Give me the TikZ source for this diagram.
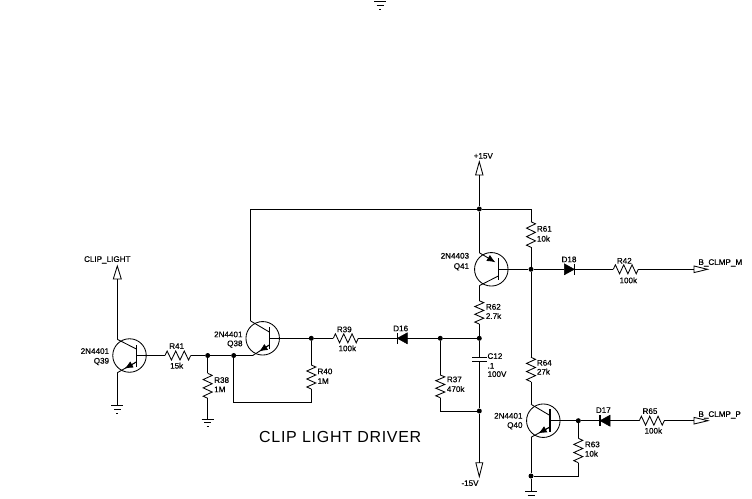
\documentclass[tikz,border=0pt]{standalone}
\usepackage{fontspec}
\setmainfont{Liberation Sans}
\newfontfamily\labfont[FakeBold=0.4]{Liberation Sans}
\usetikzlibrary{calc,arrows.meta}
\tikzset{
  wire/.style={line width=0.85pt,black,line join=miter},
  lab/.style={inner sep=0pt,text height=5.8pt,text depth=0pt,font=\labfont\fontsize{8.1}{9}\selectfont},
  labl/.style={lab,anchor=west},
  labr/.style={lab,anchor=east},
  dot/.style={circle,fill=black,inner sep=0pt,minimum size=5pt},
  qcirc/.style={circle,draw,line width=0.85pt,inner sep=0pt,minimum size=33.5pt},
  pin/.style={line width=0.85pt,draw=black,fill=white},
  dfill/.style={fill=black,draw=black,line width=0.5pt,line join=miter},
  emit/.style={wire,-{Latex[length=8.5pt,width=7pt]}}
}
% zigzag resistor body between two coordinates, #3 = side offset
\newcommand{\zigres}[3]{\draw[wire] (#1)
  -- ($(#1)!1/12!(#2)+#3$) -- ($(#1)!3/12!(#2)-#3$)
  -- ($(#1)!5/12!(#2)+#3$) -- ($(#1)!7/12!(#2)-#3$)
  -- ($(#1)!9/12!(#2)+#3$) -- ($(#1)!11/12!(#2)-#3$) -- (#2);}
% ground symbol, hanging below a named coordinate
\newcommand{\gnd}[1]{\draw[wire] ($(#1)+(-6,0)$) -- ($(#1)+(6,0)$);
  \draw[wire] ($(#1)+(-3.5,3.7)$) -- ($(#1)+(3.5,3.7)$);
  \draw[wire] ($(#1)+(-1,7.4)$) -- ($(#1)+(1,7.4)$);}
\begin{document}
\begin{tikzpicture}[x=1pt,y=-1pt]
\useasboundingbox[fill=white] (0,0) rectangle (752,498);

% ---- junctions
\node[dot] (j1) at (207.7,355.5) {};
\node[dot] (j2) at (233.7,355.5) {};
\node[dot] (j3) at (311.3,338.3) {};
\node[dot] (j4) at (440.3,338.3) {};
\node[dot] (j5) at (479.3,338.3) {};
\node[dot] (j6) at (479.3,411) {};
\node[dot] (j7) at (479.3,209) {};
\node[dot] (j8) at (531,269.3) {};
\node[dot] (j9) at (578.3,420.7) {};
\node[dot] (j10) at (531,476) {};

% ---- transistors
\node[qcirc] (q39) at (129.5,355.5) {};
\node[qcirc] (q38) at (262.7,338.3) {};
\node[qcirc] (q41) at (491.3,269.3) {};
\node[qcirc] (q40) at (543.3,420.7) {};

\coordinate (q39bt) at (136.3,345); \coordinate (q39bb) at (136.3,366.7); \coordinate (q39b) at (136.3,355.5);
\coordinate (q39c) at (117.3,339.3); \coordinate (q39e) at (117.3,372.7);
\coordinate (q39ci) at (136.3,349); \coordinate (q39ei) at (136.3,362);
\draw[wire,line width=1.3pt] (q39bt) -- (q39bb);
\draw[wire] (q39ci) -- (q39c);
\draw[emit] (q39ei) -- ($(q39ei)!0.62!(q39e)$);
\draw[wire] (q39ei) -- (q39e);

\coordinate (q38bt) at (269.3,327); \coordinate (q38bb) at (269.3,349); \coordinate (q38b) at (269.3,338.3);
\coordinate (q38c) at (250.7,321); \coordinate (q38e) at (252.7,355.5);
\coordinate (q38ci) at (269.3,332); \coordinate (q38ei) at (269.3,345);
\draw[wire,line width=1.3pt] (q38bt) -- (q38bb);
\draw[wire] (q38ci) -- (q38c);
\draw[emit] (q38ei) -- ($(q38ei)!0.62!(q38e)$);
\draw[wire] (q38ei) -- (q38e);

\coordinate (q41bt) at (498.3,258.3); \coordinate (q41bb) at (498.3,280); \coordinate (q41b) at (498.3,269.3);
\coordinate (q41e) at (479.3,252.7); \coordinate (q41c) at (479.3,285.7);
\coordinate (q41ei) at (498.3,264); \coordinate (q41ci) at (498.3,276);
\draw[wire,line width=1.3pt] (q41bt) -- (q41bb);
\draw[emit] (q41e) -- ($(q41e)!0.85!(q41ei)$);
\draw[wire] (q41ci) -- (q41c);

\coordinate (q40bt) at (550,409.3); \coordinate (q40bb) at (550,431.7); \coordinate (q40b) at (550,420.7);
\coordinate (q40c) at (531,404.3); \coordinate (q40e) at (531,437.3);
\coordinate (q40ci) at (550,415.5); \coordinate (q40ei) at (550,427);
\draw[wire,line width=1.3pt] (q40bt) -- (q40bb);
\draw[wire] (q40ci) -- (q40c);
\draw[emit] (q40ei) -- ($(q40ei)!0.62!(q40e)$);
\draw[wire] (q40ei) -- (q40e);

% ---- resistors
\coordinate (r41a) at (165,355.5); \coordinate (r41b) at (190.7,355.5);
\zigres{r41a}{r41b}{(0,-4.5)}
\coordinate (r38a) at (207.7,373.3); \coordinate (r38b) at (207.7,398.3);
\zigres{r38a}{r38b}{(4.5,0)}
\coordinate (r40a) at (311.3,365); \coordinate (r40b) at (311.3,389);
\zigres{r40a}{r40b}{(4.5,0)}
\coordinate (r39a) at (333.3,338.3); \coordinate (r39b) at (358.3,338.3);
\zigres{r39a}{r39b}{(0,-4.5)}
\coordinate (r37a) at (440.3,375); \coordinate (r37b) at (440.3,397.7);
\zigres{r37a}{r37b}{(4.5,0)}
\coordinate (r62a) at (479.3,300.7); \coordinate (r62b) at (479.3,324);
\zigres{r62a}{r62b}{(4.5,0)}
\coordinate (r61a) at (531,221.7); \coordinate (r61b) at (531,247.3);
\zigres{r61a}{r61b}{(4.5,0)}
\coordinate (r42a) at (613.3,269.3); \coordinate (r42b) at (638.3,269.3);
\zigres{r42a}{r42b}{(0,-4.5)}
\coordinate (r64a) at (531,357.3); \coordinate (r64b) at (531,381.7);
\zigres{r64a}{r64b}{(4.5,0)}
\coordinate (r63a) at (578.3,438.3); \coordinate (r63b) at (578.3,462.7);
\zigres{r63a}{r63b}{(4.5,0)}
\coordinate (r65a) at (639.3,420.7); \coordinate (r65b) at (664.3,420.7);
\zigres{r65a}{r65b}{(0,-4.5)}

% ---- diodes
\coordinate (d16k) at (397.3,338.3); \coordinate (d16a) at (407.3,338.3);
\draw[dfill] (d16k) -- ($(d16a)+(0,-5.5)$) -- ($(d16a)+(0,5.5)$) -- cycle;
\draw[wire,line width=1.1pt] ($(d16k)+(0,-5.5)$) -- ($(d16k)+(0,5.5)$);
\coordinate (d18a) at (564.3,269.3); \coordinate (d18k) at (574.3,269.3);
\draw[dfill] (d18k) -- ($(d18a)+(0,-5.5)$) -- ($(d18a)+(0,5.5)$) -- cycle;
\draw[wire,line width=1.1pt] ($(d18k)+(0,-5.5)$) -- ($(d18k)+(0,5.5)$);
\coordinate (d17k) at (600,420.7); \coordinate (d17a) at (610,420.7);
\draw[dfill] (d17k) -- ($(d17a)+(0,-5.5)$) -- ($(d17a)+(0,5.5)$) -- cycle;
\draw[wire,line width=1.1pt] ($(d17k)+(0,-5.5)$) -- ($(d17k)+(0,5.5)$);

% ---- capacitor
\coordinate (c12a) at (479.3,357.3); \coordinate (c12b) at (479.3,361);
\draw[wire] ($(c12a)+(-7.2,0)$) -- ($(c12a)+(7.2,0)$);
\draw[wire] ($(c12b)+(-7.2,0)$) -- ($(c12b)+(7.2,0)$);

% ---- pins
\coordinate (pclip) at (117.3,279);
\draw[pin] (pclip) -- ++(-4,0) -- ++(4,-13) -- ++(4,13) -- cycle;
\coordinate (pp15) at (479.3,175);
\draw[pin] (pp15) -- ++(-3.7,0) -- ++(3.7,-13.3) -- ++(3.7,13.3) -- cycle;
\coordinate (pm15) at (479.3,462.7);
\draw[pin] (pm15) -- ++(-3.5,0) -- ++(3.5,14) -- ++(3.5,-14) -- cycle;
\coordinate (pbm) at (694,269.3);
\draw[pin] (pbm) -- ++(0,-3.3) -- ++(13.5,3.3) -- ++(-13.5,3.3) -- cycle;
\coordinate (pbp) at (694,420.7);
\draw[pin] (pbp) -- ++(0,-3.3) -- ++(14,3.3) -- ++(-14,3.3) -- cycle;

% ---- grounds
\coordinate (g39) at (117.3,405.7);
\coordinate (g38) at (207.7,419);
\coordinate (g40) at (531,491.7);
\coordinate (gtop) at (380,1.7);
\gnd{g39} \gnd{g38} \gnd{g40} \gnd{gtop}

% ---- wires
\draw[wire] (q39c) -- (pclip);
\draw[wire] (q39e) -- (g39);
\draw[wire] (q39b) -- (r41a);
\draw[wire] (r41b) -- (j1);
\draw[wire] (j1) -- (j2);
\draw[wire] (j2) -- (q38e);
\draw[wire] (j1) -- (r38a);
\draw[wire] (r38b) -- (g38);
\draw[wire] (q38c) |- (j7);
\coordinate (r40foot) at (311.3,402.7);
\draw[wire] (j2) |- (r40foot) -- (r40b);
\draw[wire] (q38b) -- (j3);
\draw[wire] (j3) -- (r40a);
\draw[wire] (j3) -- (r39a);
\draw[wire] (r39b) -- (d16k);
\draw[wire] (d16a) -- (j4);
\draw[wire] (j4) -- (j5);
\draw[wire] (j4) -- (r37a);
\coordinate (r37foot) at (440.3,411);
\draw[wire] (r37b) -- (r37foot) -- (j6);
\draw[wire] (j5) -- (c12a);
\draw[wire] (c12b) -- (j6);
\draw[wire] (j6) -- (pm15);
\draw[wire] (r62b) -- (j5);
\draw[wire] (q41c) -- (r62a);
\draw[wire] (q41e) -- (j7);
\draw[wire] (j7) -- (pp15);
\coordinate (topr) at (531,209);
\draw[wire] (j7) -- (topr) -- (r61a);
\draw[wire] (r61b) -- (j8);
\draw[wire] (q41b) -- (j8);
\draw[wire] (j8) -- (d18a);
\draw[wire] (d18k) -- (r42a);
\draw[wire] (r42b) -- (pbm);
\draw[wire] (j8) -- (r64a);
\draw[wire] (r64b) -- (q40c);
\draw[wire] (q40e) -- (j10);
\draw[wire] (j10) -- (g40);
\draw[wire] (q40b) -- (j9);
\draw[wire] (j9) -- (d17k);
\draw[wire] (d17a) -- (r65a);
\draw[wire] (r65b) -- (pbp);
\draw[wire] (j9) -- (r63a);
\coordinate (r63foot) at (578.3,476);
\draw[wire] (r63b) -- (r63foot) -- (j10);

% ---- labels
\node[lab] (tclip) at (107.3,259) {CLIP\_LIGHT};
\node[labr] (tq39a) at (109.3,351) {2N4401};
\node[labr] (tq39b) at (109.3,360.7) {Q39};
\node[lab] (tr41) at (176.7,346) {R41};
\node[lab] (tr41v) at (176.7,365.7) {15k};
\node[labl] (tr38) at (214,380) {R38};
\node[labl] (tr38v) at (214,389.3) {1M};
\node[labr] (tq38a) at (242.7,334.3) {2N4401};
\node[labr] (tq38b) at (242.7,343.3) {Q38};
\node[lab] (tr39) at (344.3,329.3) {R39};
\node[lab] (tr39v) at (347.3,348.3) {100k};
\node[lab] (td16) at (400.7,328.3) {D16};
\node[labl] (tr40) at (317.3,371.3) {R40};
\node[labl] (tr40v) at (317.3,381) {1M};
\node[labl] (tr37) at (446.7,379.3) {R37};
\node[labl] (tr37v) at (446.7,389) {470k};
\node[labl] (tc12) at (487.3,356) {C12};
\node[labl] (tc12v) at (487.3,365.7) {.1};
\node[labl] (tc12w) at (487.3,374) {100V};
\node[lab] (tm15) at (470,483) {-15V};
\node[labl] (tr62) at (485.7,306.7) {R62};
\node[labl] (tr62v) at (485.7,316) {2.7k};
\node[lab] (tp15) at (483.3,155.7) {+15V};
\node[labl] (tr61) at (536.7,228.7) {R61};
\node[labl] (tr61v) at (536.7,238.7) {10k};
\node[labr] (tq41a) at (469.3,255.7) {2N4403};
\node[labr] (tq41b) at (469.3,266) {Q41};
\node[lab] (td18) at (569,259.3) {D18};
\node[lab] (tr42) at (624.3,260.7) {R42};
\node[lab] (tr42v) at (628.3,280.3) {100k};
\node[labl] (tbm) at (698.3,262) {B\_CLMP\_M};
\node[labl] (tr64) at (536.7,362.7) {R64};
\node[labl] (tr64v) at (536.7,371.7) {27k};
\node[labr] (tq40a) at (522.7,415.7) {2N4401};
\node[labr] (tq40b) at (522.7,425) {Q40};
\node[lab] (td17) at (603.3,410) {D17};
\node[lab] (tr65) at (650,411) {R65};
\node[lab] (tr65v) at (653.3,430.7) {100k};
\node[labl] (tr63) at (584.7,444.3) {R63};
\node[labl] (tr63v) at (584.7,453.7) {10k};
\node[labl] (tbp) at (698.3,414) {B\_CLMP\_P};
\node[inner sep=0pt,anchor=west,font=\fontsize{16}{18}\selectfont] (ttitle) at (259,437) {\addfontfeatures{LetterSpace=4.5}CLIP LIGHT DRIVER};
\end{tikzpicture}
\end{document}
